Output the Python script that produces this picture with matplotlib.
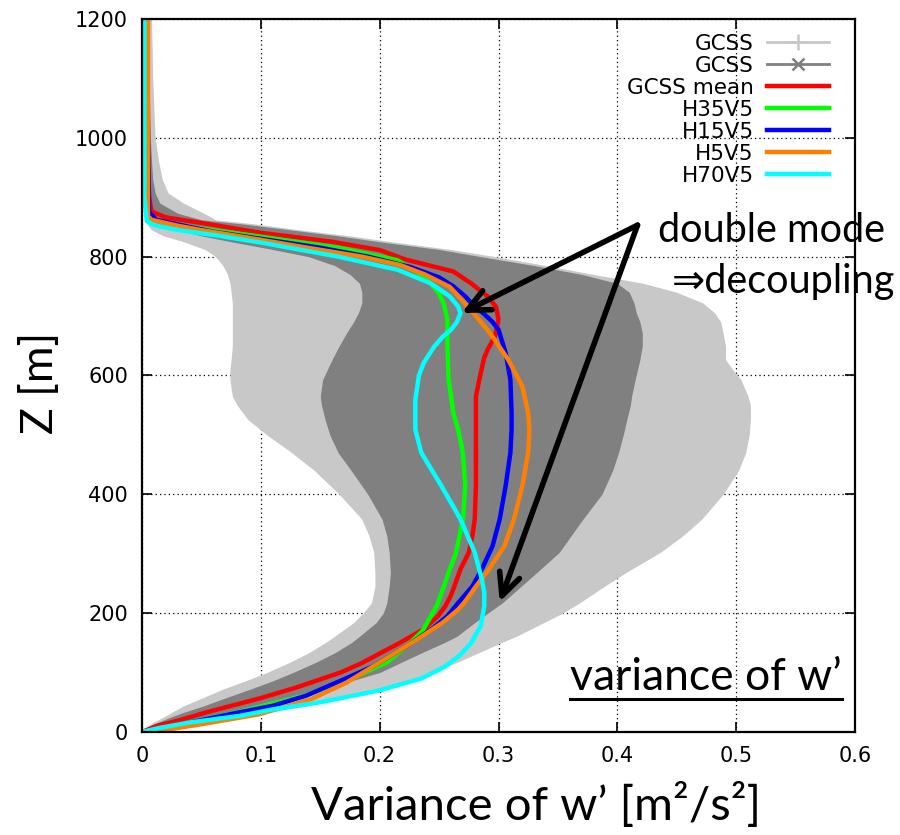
import matplotlib
matplotlib.use("Agg")
import matplotlib.pyplot as plt
from matplotlib.lines import Line2D
from matplotlib.patches import ArrowStyle

# GCSS ensemble: full range (light) and inner band (dark), per height level
band_z = [0, 8, 16, 25, 33, 44, 55, 72, 86, 100, 117, 133, 150, 161, 184, 200, 217, 245, 268, 302,
          330, 358, 400, 440, 470, 500, 526, 550, 565, 593, 610, 627, 650, 671, 690, 705, 722, 740,
          755, 770, 785, 800, 812, 825, 835, 845, 855, 862, 873, 890, 907, 930, 960, 1000, 1100, 1200]
range_lo = [0.0, 0.004, 0.009, 0.018, 0.025, 0.035, 0.048, 0.068, 0.087, 0.105, 0.124, 0.14, 0.154,
            0.162, 0.178, 0.186, 0.193, 0.196, 0.196, 0.195, 0.191, 0.185, 0.166, 0.145, 0.126, 0.105,
            0.089, 0.080, 0.076, 0.074, 0.074, 0.075, 0.076, 0.076, 0.076, 0.076, 0.076, 0.075, 0.074,
            0.072, 0.068, 0.062, 0.053, 0.035, 0.018, 0.008, 0.004, 0.003, 0.002, 0.001, 0.001, 0.001,
            0.001, 0.001, 0.001, 0.001]
range_hi = [0.0, 0.025, 0.049, 0.077, 0.105, 0.14, 0.167, 0.198, 0.222, 0.243, 0.265, 0.283, 0.302,
            0.315, 0.338, 0.354, 0.368, 0.389, 0.407, 0.436, 0.455, 0.471, 0.489, 0.502, 0.508, 0.511,
            0.512, 0.512, 0.510, 0.504, 0.497, 0.491, 0.491, 0.489, 0.487, 0.482, 0.472, 0.450, 0.422,
            0.38, 0.34, 0.297, 0.26, 0.21, 0.175, 0.133, 0.095, 0.062, 0.052, 0.035, 0.022, 0.017,
            0.014, 0.011, 0.009, 0.008]
inner_lo = [0.0, 0.006, 0.013, 0.024, 0.035, 0.052, 0.067, 0.091, 0.11, 0.127, 0.146, 0.162, 0.176,
            0.183, 0.197, 0.203, 0.206, 0.208, 0.209, 0.208, 0.206, 0.202, 0.19, 0.176, 0.165, 0.158,
            0.154, 0.151, 0.15, 0.152, 0.156, 0.16, 0.166, 0.172, 0.178, 0.182, 0.185, 0.185, 0.183,
            0.175, 0.162, 0.14, 0.11, 0.075, 0.05, 0.03, 0.012, 0.008, 0.004, 0.003, 0.003, 0.003,
            0.003, 0.002, 0.002, 0.002]
inner_hi = [0.0, 0.018, 0.036, 0.055, 0.072, 0.093, 0.115, 0.15, 0.176, 0.2, 0.218, 0.235, 0.254,
            0.265, 0.28, 0.291, 0.303, 0.319, 0.332, 0.351, 0.361, 0.371, 0.387, 0.396, 0.401, 0.405,
            0.408, 0.411, 0.412, 0.415, 0.417, 0.419, 0.421, 0.421, 0.419, 0.416, 0.414, 0.41, 0.40,
            0.37, 0.33, 0.285, 0.25, 0.2, 0.165, 0.125, 0.085, 0.05, 0.03, 0.015, 0.011, 0.009,
            0.008, 0.007, 0.006, 0.006]

# simulated profiles
mean_z = [0, 10, 20, 33, 45, 57, 75, 100, 115, 132, 150, 173, 195, 211, 230, 246, 274, 302, 330, 358,
          414, 470, 526, 565, 604, 630, 644, 666, 694, 715, 733, 739, 755, 775, 795, 811, 825, 840,
          850, 857, 866, 876, 900, 1000, 1100, 1200]
mean_w = [0.0, 0.012, 0.032, 0.054, 0.077, 0.1, 0.13, 0.167, 0.184, 0.2, 0.217, 0.237, 0.249, 0.255,
          0.26, 0.263, 0.268, 0.275, 0.278, 0.28, 0.281, 0.281, 0.281, 0.281, 0.285, 0.288, 0.291,
          0.297, 0.300, 0.298, 0.291, 0.287, 0.277, 0.262, 0.222, 0.2, 0.16, 0.1, 0.07, 0.049, 0.02,
          0.008, 0.006, 0.004, 0.003, 0.003]

h35_z = [0, 15, 33, 60, 89, 117, 145, 170, 212, 245, 274, 300, 358, 414, 470, 509, 537, 593, 649,
         694, 720, 738, 766, 794, 815, 835, 850, 860, 870, 1000, 1200]
h35_w = [0.0, 0.038, 0.08, 0.135, 0.175, 0.206, 0.223, 0.236, 0.248, 0.254, 0.259, 0.264, 0.270,
         0.272, 0.270, 0.266, 0.262, 0.258, 0.257, 0.257, 0.254, 0.25, 0.238, 0.215, 0.165, 0.095,
         0.04, 0.012, 0.005, 0.004, 0.004]

h15_z = [0, 8, 16, 33, 44, 61, 86, 111, 145, 175, 195, 217, 245, 274, 313, 358, 414, 470, 509, 537,
         593, 638, 677, 690, 705, 716, 733, 750, 765, 783, 800, 815, 830, 842, 850, 862, 875, 1000, 1200]
h15_w = [0.0, 0.02, 0.04, 0.082, 0.11, 0.138, 0.167, 0.195, 0.223, 0.245, 0.257, 0.266, 0.278, 0.286,
         0.295, 0.301, 0.306, 0.310, 0.311, 0.311, 0.310, 0.306, 0.300, 0.295, 0.287, 0.28, 0.272,
         0.262, 0.25, 0.225, 0.19, 0.15, 0.1, 0.06, 0.04, 0.012, 0.006, 0.005, 0.004]

h5_z = [0, 2, 13, 30, 55, 83, 117, 150, 184, 206, 217, 245, 274, 313, 358, 414, 470, 509, 537, 582,
        627, 671, 700, 716, 730, 749, 770, 786, 800, 817, 830, 845, 852, 862, 868, 1000, 1200]
h5_w = [0.0, 0.015, 0.05, 0.099, 0.142, 0.172, 0.2, 0.227, 0.253, 0.266, 0.271, 0.281, 0.292, 0.305,
        0.313, 0.320, 0.325, 0.326, 0.325, 0.320, 0.308, 0.293, 0.281, 0.274, 0.268, 0.259, 0.238,
        0.217, 0.185, 0.133, 0.095, 0.049, 0.03, 0.008, 0.005, 0.005, 0.005]

h70_z = [0, 7, 16, 27, 38, 50, 70, 90, 110, 130, 150, 178, 212, 235, 257, 302, 358, 414, 470, 509,
         559, 600, 621, 649, 665, 677, 690, 705, 716, 733, 755, 778, 800, 811, 822, 835, 845, 853,
         860, 900, 1000, 1200]
h70_w = [0.0, 0.015, 0.04, 0.082, 0.11, 0.15, 0.2, 0.235, 0.255, 0.268, 0.277, 0.285, 0.288, 0.288,
         0.286, 0.280, 0.268, 0.252, 0.235, 0.230, 0.230, 0.233, 0.237, 0.246, 0.253, 0.26, 0.265,
         0.268, 0.266, 0.259, 0.243, 0.215, 0.165, 0.135, 0.105, 0.065, 0.03, 0.01, 0.004, 0.002,
         0.002, 0.002]

profiles = [
    ("GCSS mean", mean_z, mean_w, "#ff0000"),
    ("H35V5", h35_z, h35_w, "#00ff00"),
    ("H15V5", h15_z, h15_w, "#0000ff"),
    ("H5V5", h5_z, h5_w, "#ff8000"),
    ("H70V5", h70_z, h70_w, "#00ffff"),
]

x_ticks = [0, 0.1, 0.2, 0.3, 0.4, 0.5, 0.6]
y_ticks = [0, 200, 400, 600, 800, 1000, 1200]

# arrows from the "double mode" note to the two maxima
note_from = (0.417, 853)
note_to = [(0.269, 705), (0.301, 219)]

LIGHT = "#c8c8c8"
DARK = "#808080"
SANS = ["Lato", "DejaVu Sans"]

fig = plt.figure(figsize=(9, 8.35), dpi=100)
ax = fig.add_axes([0.1578, 0.1234, 0.7922, 0.8539])

ax.fill_betweenx(band_z, range_lo, range_hi, color=LIGHT, lw=0, zorder=1)
ax.fill_betweenx(band_z, inner_lo, inner_hi, color=DARK, lw=0, zorder=1.1)

for label, z, w, c in profiles:
    ax.plot(w, z, color=c, lw=3.2, zorder=2, solid_capstyle="round", solid_joinstyle="round")

ax.set_xlim(0, 0.6)
ax.set_ylim(0, 1200)
ax.set_xticks(x_ticks)
ax.set_xticklabels(["0" if t == 0 else f"{t:g}" for t in x_ticks])
ax.set_yticks(y_ticks)
ax.tick_params(direction="in", length=7, width=1.2, labelsize=15, pad=10,
               top=True, right=True)
ax.set_axisbelow(True)
ax.grid(True, color="black", lw=0.9, linestyle=(0, (1, 2.5)))
for s in ax.spines.values():
    s.set_linewidth(1.6)

ax.set_xlabel("Variance of w\u2019 [m\u00b2/s\u00b2]", family=SANS, fontsize=34)
ax.xaxis.set_label_coords(0.552, -0.102)
ax.xaxis.label.set_va("center")
ax.set_ylabel("Z [m]", family=SANS, fontsize=32)
ax.yaxis.set_label_coords(-0.143, 0.49)
ax.yaxis.label.set_va("center")

handles = [
    Line2D([], [], color=LIGHT, lw=2, marker="+", ms=11, mew=1.8),
    Line2D([], [], color=DARK, lw=2, marker="x", ms=9, mew=1.8),
] + [Line2D([], [], color=c, lw=3.2) for _, _, _, c in profiles]
labels = ["GCSS", "GCSS"] + [p[0] for p in profiles]
ax.legend(handles, labels, loc="upper right", bbox_to_anchor=(0.9635, 0.979),
          frameon=False, markerfirst=False, fontsize=15.5, handlelength=2.9,
          handletextpad=0.6, labelspacing=0.09, borderpad=0, borderaxespad=0)

style = ArrowStyle("->", head_length=0.8, head_width=0.38)
for tip in note_to:
    ax.annotate("", xy=tip, xytext=note_from,
                arrowprops=dict(arrowstyle=style, lw=4, color="black",
                                mutation_scale=20, shrinkA=0, shrinkB=0),
                zorder=5)

ax.text(0.724, 0.687, "double mode", transform=ax.transAxes, family=SANS,
        fontsize=28.5, va="baseline", ha="left", clip_on=False)
ax.text(0.743, 0.616, "\u21d2decoupling", transform=ax.transAxes, family=SANS,
        fontsize=28.5, va="baseline", ha="left", clip_on=False)
note = ax.text(0.600, 0.059, "variance of w\u2019", transform=ax.transAxes, family=SANS,
               fontsize=32, va="baseline", ha="left")

# underline the panel caption
fig.canvas.draw()
bb = note.get_window_extent()
(x0, y0), (x1, _) = fig.transFigure.inverted().transform([(bb.x0, bb.y0 - 1), (bb.x1, bb.y1)])
fig.add_artist(Line2D([x0, x1], [y0, y0], color="black", lw=2.2, transform=fig.transFigure))

fig.savefig("out.png", dpi=100)
